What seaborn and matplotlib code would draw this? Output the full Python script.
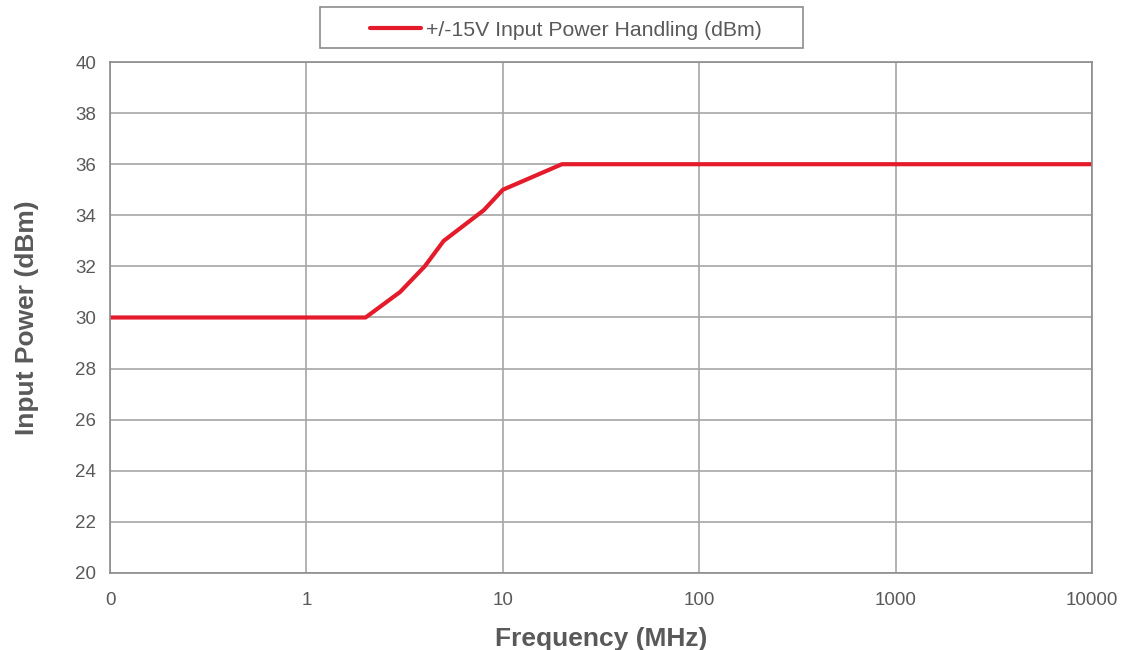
import pandas as pd
import matplotlib.pyplot as plt
import seaborn as sns
from matplotlib.patches import Rectangle

freq_mhz = [0.1, 1, 2, 3, 4, 5, 8, 10, 20, 10000]
power_dbm = [30, 30, 30, 31, 32, 33, 34.2, 35, 36, 36]
x_ticks = [0.1, 1, 10, 100, 1000, 10000]
x_labels = ["0", "1", "10", "100", "1000", "10000"]
y_ticks = list(range(20, 41, 2))
series_name = "+/-15V Input Power Handling (dBm)"

df = pd.DataFrame({"freq": freq_mhz, "power": power_dbm, "series": series_name})

sns.set_style("white")
plt.rcParams["font.family"] = ["Liberation Sans", "DejaVu Sans"]

fig = plt.figure(figsize=(11.23, 6.5), dpi=100)
ax = fig.add_axes([0.098, 0.1185, 0.8744, 0.7861])

sns.lineplot(data=df, x="freq", y="power", hue="series", palette=["#e31b2b"],
             linewidth=3, ax=ax, legend=True)

ax.set_xscale("log")
ax.set_xlim(0.1, 10000)
ax.set_ylim(20, 40)
ax.set_xticks(x_ticks)
ax.set_xticklabels(x_labels)
ax.set_yticks(y_ticks)
ax.minorticks_off()

grey = "#595959"
ax.grid(True, color="#a6a6a6", linewidth=1.2)
for s in ax.spines.values():
    s.set_color("#8c8c8c")
    s.set_linewidth(1.2)
ax.tick_params(axis="both", colors="#8c8c8c", labelcolor=grey, labelsize=13.5,
               length=4, width=1, direction="out", pad=6)
ax.tick_params(axis="x", pad=10)

ax.set_xlabel("Frequency (MHz)", fontsize=19, fontweight="bold", color=grey, labelpad=13)
ax.set_ylabel("Input Power (dBm)", fontsize=19, fontweight="bold", color=grey, labelpad=26)

leg = ax.legend(loc="center", bbox_to_anchor=(566 / 1123, 1 - 30 / 650),
                bbox_transform=fig.transFigure, frameon=False, fontsize=15.3,
                handlelength=2.4, handletextpad=0.2)
for t in leg.get_texts():
    t.set_color(grey)

fig.patches.append(Rectangle((320 / 1123, 1 - 48 / 650), 483 / 1123, 41 / 650,
                             transform=fig.transFigure, fill=False,
                             edgecolor="#8c8c8c", linewidth=1.2))

fig.savefig("out.png", dpi=100)
